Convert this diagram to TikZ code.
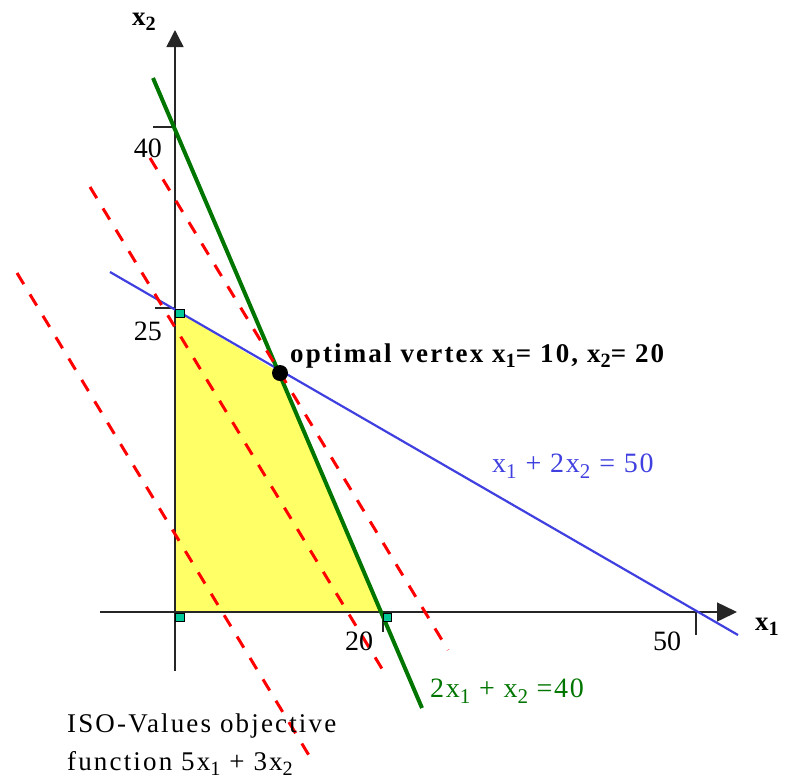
\documentclass[tikz,border=0pt]{standalone}
\usepackage{fontspec}
\usepackage{graphicx}
\setmainfont{Liberation Serif}
\usetikzlibrary{arrows.meta}
\newcommand\lsub[1]{\raisebox{-0.22em}{\scalebox{0.75}{#1}}}
\definecolor{lpyellow}{RGB}{255,255,102}
\definecolor{lpgreen}{RGB}{0,118,0}
\definecolor{lpblue}{RGB}{64,64,224}
\definecolor{lpred}{RGB}{255,0,0}
\definecolor{lpteal}{RGB}{0,200,150}
\tikzset{
  axisline/.style={line width=1.5pt, black!85},
  tickline/.style={line width=1.3pt, black!85},
  greenline/.style={line width=4pt, lpgreen},
  blueline/.style={line width=2.2pt, lpblue},
  isoline/.style={line width=3pt, lpred, dash pattern=on 13pt off 12pt},
  cornerbox/.style={fill=lpteal, draw=black, line width=0.8pt},
  lbl/.style={font=\fontsize{28}{30}\selectfont, inner sep=0pt},
  blbl/.style={font=\fontsize{27}{30}\selectfont\bfseries, inner sep=0pt},
}
\begin{document}
\begin{tikzpicture}[x=1pt, y=-1pt]
\useasboundingbox (0,0) rectangle (787,782);
% coordinates
\coordinate (O) at (175,612);
\coordinate (P25) at (175,310);
\coordinate (V) at (280,373);
\coordinate (P20) at (382,612);
\coordinate (yb) at (175,671);
\coordinate (yt) at (175,30);
\coordinate (xl) at (100,612);
\coordinate (xr) at (737,612);
\coordinate (g1) at (153,78);
\coordinate (g2) at (422,708);
\coordinate (b1) at (110,272);
\coordinate (b2) at (738,635);
\coordinate (rA1) at (17,273);
\coordinate (rA2) at (313,762);
\coordinate (rB1) at (90,187);
\coordinate (rB2) at (387,677);
\coordinate (rC1) at (150,158);
\coordinate (rC2) at (448,650);
% feasible region
\fill[lpyellow] (O) -- (P25) -- (V) -- (P20) -- cycle;
% axes
\draw[axisline, -{Triangle[width=17pt,length=17pt]}] (yb) -- (yt);
\draw[axisline, -{Triangle[width=19pt,length=20pt]}] (xl) -- (xr);
% ticks
\coordinate (t40a) at (153,127); \coordinate (t40b) at (175,127);
\coordinate (t25a) at (155,308); \coordinate (t25b) at (175,308);
\coordinate (t20a) at (383,612); \coordinate (t20b) at (383,632);
\coordinate (t50a) at (696,612); \coordinate (t50b) at (696,635);
\draw[tickline] (t40a) -- (t40b);
\draw[tickline] (t25a) -- (t25b);
\draw[tickline] (t20a) -- (t20b);
\draw[tickline] (t50a) -- (t50b);
% constraint lines
\draw[blueline] (b1) -- (b2);
\draw[greenline] (g1) -- (g2);
% iso-value lines
\draw[isoline] (rA1) -- (rA2);
\draw[isoline] (rB1) -- (rB2);
\draw[isoline] (rC1) -- (rC2);
% corner markers
\draw[cornerbox] (175.5,613) rectangle (184,621.5);
\draw[cornerbox] (175.5,309) rectangle (184,317.5);
\draw[cornerbox] (383,613) rectangle (391,621.5);
% optimal vertex
\fill[black] (V) circle (8pt);
% labels
\node[blbl, anchor=base west] (lx2) at (132,25) {x\lsub{2}};
\node[blbl, anchor=base west] (lx1) at (755,630) {x\lsub{1}};
\node[lbl, anchor=base east] (l40) at (162,157) {40};
\node[lbl, anchor=base east] (l25) at (162,340) {25};
\node[lbl, anchor=base west] (l20) at (345,650) {20};
\node[lbl, anchor=base west] (l50) at (653,650) {50};
\node[blbl, anchor=base west, font=\fontsize{27}{30}\selectfont\bfseries\addfontfeatures{LetterSpace=8}] (lopt) at (290,362) {optimal vertex x\lsub{1}= 10, x\lsub{2}= 20};
\node[lbl, text=lpblue, anchor=base west, font=\fontsize{28}{30}\selectfont\addfontfeatures{LetterSpace=6.5}] (lblue) at (492,472) {x\lsub{1} + 2x\lsub{2} = 50};
\node[lbl, text=lpgreen, anchor=base west, font=\fontsize{28}{30}\selectfont\addfontfeatures{LetterSpace=6}] (lgreen) at (430,697) {2x\lsub{1} + x\lsub{2} =40};
\node[lbl, anchor=base west, font=\fontsize{27}{30}\selectfont\addfontfeatures{LetterSpace=8}] (liso1) at (67,732) {ISO-Values objective};
\node[lbl, anchor=base west, font=\fontsize{27}{30}\selectfont\addfontfeatures{LetterSpace=8}] (liso2) at (67,770) {function 5x\lsub{1} + 3x\lsub{2}};
\end{tikzpicture}
\end{document}
